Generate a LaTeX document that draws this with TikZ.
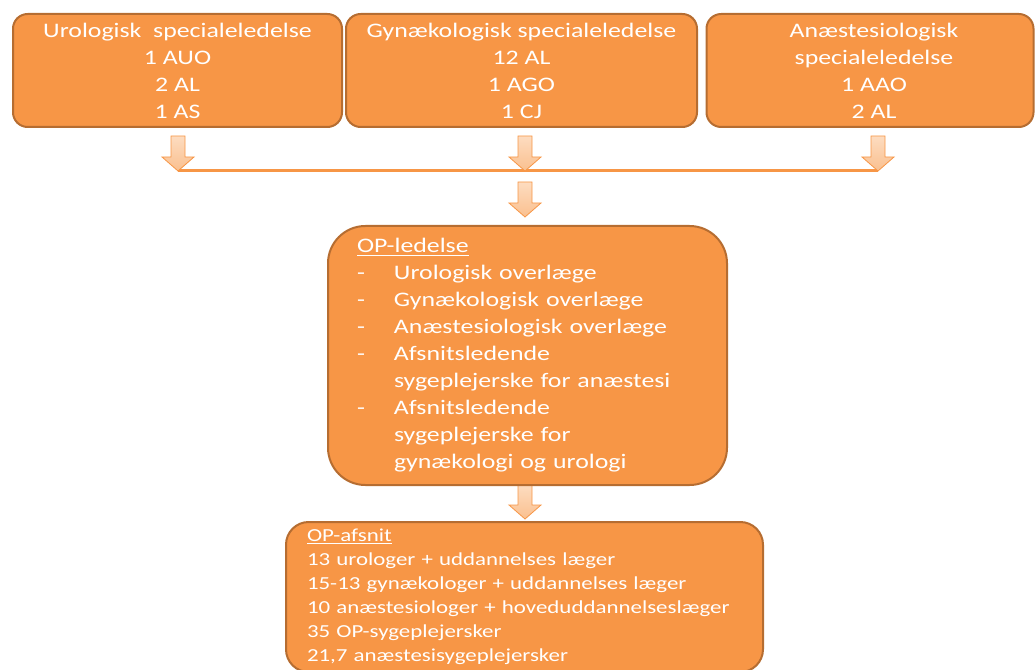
\documentclass[tikz,border=0pt]{standalone}
\usepackage{fontspec}
\setmainfont{Carlito}[FakeStretch=1.25]
\usetikzlibrary{calc}
\definecolor{boxfill}{HTML}{F79646}
\definecolor{boxline}{HTML}{B66D31}
\definecolor{arrtop}{HTML}{FDDCC0}
\definecolor{arrbot}{HTML}{FAC08F}
\begin{document}
\begin{tikzpicture}[x=0.75pt,y=-0.75pt,
  orgbox/.style={draw=boxline, line width=1.5pt, fill=boxfill, text=white, inner sep=0pt},
  topfont/.style={font=\fontsize{15.5}{20.25}\selectfont},
  lowfont/.style={font=\fontsize{13.75}{18}\selectfont},
  link/.style={draw=boxfill, line width=2.25pt},
  blockarrow/.style={draw=boxfill, line width=0.6pt, top color=arrtop, bottom color=arrbot, line join=miter,
    to path={let \p1=(\tikztostart), \p2=(\tikztotarget) in
      (\x1-5.25pt,\y1) -- (\x1+5.25pt,\y1) -- (\x1+5.25pt,\y2+10.5pt) -- (\x1+12pt,\y2+10.5pt)
      -- (\x1,\y2) -- (\x1-12pt,\y2+10.5pt) -- (\x1-5.25pt,\y2+10.5pt) -- cycle}}
]
\useasboundingbox (0,0) rectangle (1035,670);
\clip (0,0) rectangle (1035,670);

% management boxes of the three specialties
\node[orgbox, topfont, align=center, minimum width=246.75pt, minimum height=84.75pt, rounded corners=11pt]
  (uro) at (177.5,70.5) {Urologisk\ \ specialeledelse\\1 AUO\\2 AL\\1 AS};
\node[orgbox, topfont, align=center, minimum width=263.25pt, minimum height=84.75pt, rounded corners=11pt]
  (gyn) at (521.5,70.5) {Gynækologisk specialeledelse\\12 AL\\1 AGO\\1 CJ};
\node[orgbox, topfont, align=center, minimum width=245.25pt, minimum height=84.75pt, rounded corners=11pt]
  (ana) at (870,70.5) {\hspace*{6pt}Anæstesiologisk\\\hspace*{6pt}specialeledelse\\\hspace*{6pt}1 AAO\\\hspace*{6pt}2 AL};

% end points of the block arrows
\coordinate (a1s) at (178,136); \coordinate (a1e) at (178,171);
\coordinate (a2s) at (525,136); \coordinate (a2e) at (525,171);
\coordinate (a3s) at (878,136); \coordinate (a3e) at (878,171);
\coordinate (a4s) at (525,182); \coordinate (a4e) at (525,217);
\coordinate (a5s) at (525,485); \coordinate (a5e) at (525,519);

% collecting line
\draw[link] (a1e) -- (a3e);

\draw[blockarrow] (a1s) to (a1e);
\draw[blockarrow] (a2s) to (a2e);
\draw[blockarrow] (a3s) to (a3e);
\draw[blockarrow] (a4s) to (a4e);
\draw[blockarrow] (a5s) to (a5e);

% OP management
\node[orgbox, topfont, align=left, inner xsep=21.75pt, text width=255.75pt, minimum height=194.25pt, rounded corners=28pt]
  (op) at (527.5,355.5) {\underline{OP-ledelse}\\
  \makebox[27.75pt][l]{-}Urologisk overlæge\\
  \makebox[27.75pt][l]{-}Gynækologisk overlæge\\
  \makebox[27.75pt][l]{-}Anæstesiologisk overlæge\\
  \makebox[27.75pt][l]{-}Afsnitsledende\\
  \hspace*{27.75pt}sygeplejerske for anæstesi\\
  \makebox[27.75pt][l]{-}Afsnitsledende\\
  \hspace*{27.75pt}sygeplejerske for\\
  \hspace*{27.75pt}gynækologi og urologi};

% OP section
\node[orgbox, lowfont, align=left, inner xsep=15.75pt, text width=326.25pt, minimum height=112.5pt, rounded corners=17pt]
  (sec) at (524.5,597) {\underline{OP-afsnit}\\
  13 urologer + uddannelses læger\\
  15-13 gynækologer + uddannelses læger\\
  10 anæstesiologer + hoveduddannelseslæger\\
  35 OP-sygeplejersker\\
  21,7 anæstesisygeplejersker};
\end{tikzpicture}
\end{document}
